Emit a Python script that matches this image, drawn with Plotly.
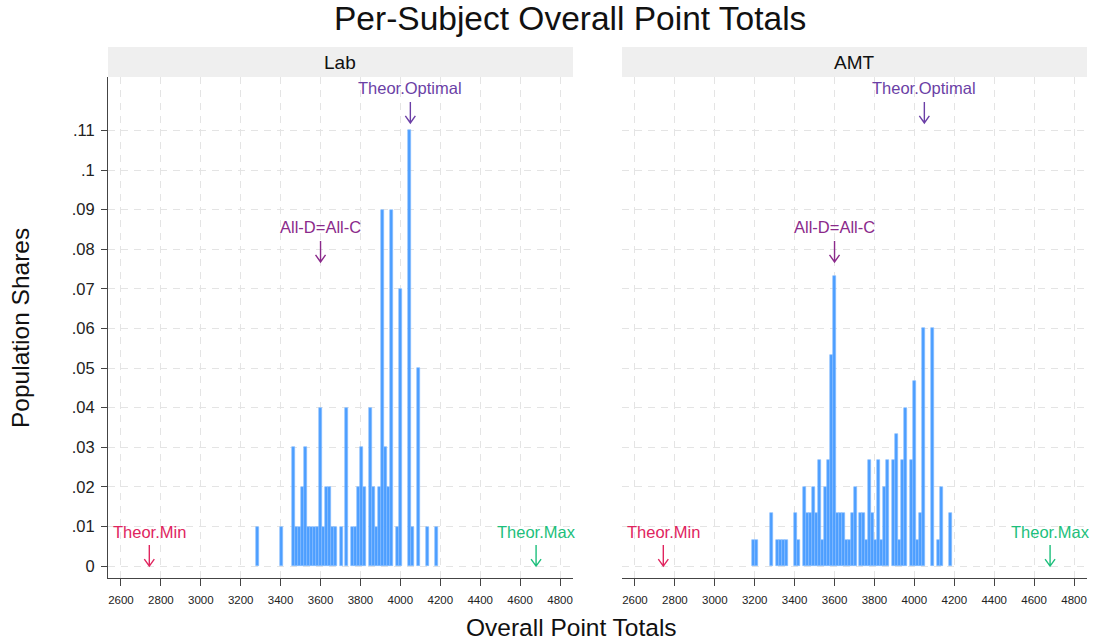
import plotly.graph_objects as go

# ---------------- data ----------------
bin_width = 15
lab_bin_lower = [3275, 3395, 3455, 3470, 3485, 3500, 3515, 3530, 3545, 3560, 3575, 3590,
                 3605, 3620, 3635, 3650, 3665, 3695, 3725, 3755, 3770, 3785, 3800, 3815,
                 3845, 3860, 3875, 3890, 3905, 3920, 3935, 3950, 3980, 3995, 4040, 4055,
                 4085, 4130, 4175]
lab_shares = [.01, .01, .03, .01, .01, .02, .03, .01, .01, .01, .01, .04,
              .01, .02, .02, .01, .01, .01, .04, .01, .01, .02, .03, .02,
              .04, .02, .01, .02, .09, .03, .02, .09, .01, .07, .11, .01,
              .05, .01, .01]

amt_bin_lower = [3185, 3200, 3275, 3305, 3320, 3335, 3350, 3395, 3410, 3440, 3455, 3470,
                 3485, 3500, 3515, 3530, 3545, 3560, 3575, 3590, 3605, 3620, 3635, 3650,
                 3665, 3680, 3695, 3725, 3740, 3755, 3770, 3785, 3800, 3815, 3830, 3845,
                 3860, 3890, 3905, 3920, 3935, 3950, 3980, 3995, 4010, 4025, 4040, 4085,
                 4115, 4130, 4175]
amt_shares = [.0067, .0067, .0133, .0067, .0067, .0067, .0067, .0133, .0067, .02, .0133, .0133,
              .02, .0133, .0267, .0067, .02, .0267, .0533, .0733, .0133, .0133, .0133, .0067,
              .0067, .0133, .02, .0133, .0133, .0067, .0267, .0133, .0067, .0267, .0067, .02,
              .0267, .0267, .0333, .0067, .0267, .04, .0267, .0467, .0067, .0133, .06, .06,
              .0067, .02, .0133]

panel_names = ["Lab", "AMT"]
x_tick_vals = [2600, 2800, 3000, 3200, 3400, 3600, 3800, 4000, 4200, 4400, 4600, 4800]
y_tick_vals = [0, .01, .02, .03, .04, .05, .06, .07, .08, .09, .1, .11]
y_tick_text = ["0", ".01", ".02", ".03", ".04", ".05", ".06", ".07", ".08", ".09", ".1", ".11"]

# reference markers: (label, x value, label y, arrow tip y, colour)
markers = [
    ("Theor.Min", 2742, .0086, .0000, "#e0245e"),
    ("Theor.Max", 4680, .0086, .0000, "#1dbf7c"),
    ("All-D=All-C", 3600, .0856, .0768, "#8b2a8b"),
    ("Theor.Optimal", 4050, .1207, .1119, "#6b3fa6"),
]

# ---------------- figure ----------------
W, H = 1093, 643
FONT = "Liberation Sans, Arial, sans-serif"
BAR = "#4c9eff"

def px_x(p):
    return p / W

def px_y(p):
    return 1 - p / H

dom_lab = [px_x(108), px_x(573)]
dom_amt = [px_x(622), px_x(1087)]
dom_y = [px_y(578), px_y(77)]

fig = go.Figure()
fig.add_trace(go.Bar(x=lab_bin_lower, y=lab_shares, width=bin_width, offset=0,
                     marker=dict(color=BAR, line=dict(color="#86bdff", width=0.6)),
                     xaxis="x", yaxis="y", showlegend=False, hoverinfo="x+y"))
fig.add_trace(go.Bar(x=amt_bin_lower, y=amt_shares, width=bin_width, offset=0,
                     marker=dict(color=BAR, line=dict(color="#86bdff", width=0.6)),
                     xaxis="x2", yaxis="y2", showlegend=False, hoverinfo="x+y"))

xrange = [2535, 4865]
yrange = [-0.003, 0.1235]
grid = dict(showgrid=True, gridcolor="#e4e4e4", gridwidth=1, griddash="7px,6px")

xcommon = dict(range=xrange, tickmode="array", tickvals=x_tick_vals,
               ticks="outside", ticklen=7, tickcolor="#444", tickwidth=1,
               showline=True, linecolor="#444", linewidth=1,
               tickfont=dict(family=FONT, size=11.5, color="#222"),
               ticklabelstandoff=4, zeroline=False, **grid)

fig.update_layout(
    width=W, height=H,
    margin=dict(l=0, r=0, t=0, b=0),
    paper_bgcolor="white", plot_bgcolor="white",
    bargap=0,
    xaxis=dict(domain=dom_lab, anchor="y", **xcommon),
    xaxis2=dict(domain=dom_amt, anchor="y2", **xcommon),
    yaxis=dict(domain=dom_y, anchor="x", range=yrange, tickmode="array",
               tickvals=y_tick_vals, ticktext=y_tick_text,
               ticks="outside", ticklen=6, tickcolor="#444",
               showline=True, linecolor="#444", linewidth=1,
               tickfont=dict(family=FONT, size=16.5, color="#222"),
               ticklabelstandoff=3, zeroline=False, **grid),
    yaxis2=dict(domain=dom_y, anchor="x2", range=yrange, tickmode="array",
                tickvals=y_tick_vals, showticklabels=False, ticks="",
                showline=False, zeroline=False, **grid),
    font=dict(family=FONT, color="#111"),
)

shapes = []
annotations = []
# strips
for name, dom in zip(panel_names, [dom_lab, dom_amt]):
    shapes.append(dict(type="rect", xref="paper", yref="paper",
                       x0=dom[0], x1=dom[1], y0=px_y(77), y1=px_y(47),
                       fillcolor="#efefef", line=dict(width=0), layer="below"))
    annotations.append(dict(xref="paper", yref="paper", x=(dom[0] + dom[1]) / 2,
                            y=(px_y(77) + px_y(47)) / 2, text=name, showarrow=False,
                            xanchor="center", yanchor="middle",
                            font=dict(family=FONT, size=19, color="#111")))

# reference markers: label text + thin down-arrow (pixel-sized path anchored at the tip)
ARROW_PATH = "M0,21 L0,0 M-5,7 L0,0 L5,7"
for xr, yr in [("x", "y"), ("x2", "y2")]:
    for label, xv, ylab, ytip, col in markers:
        annotations.append(dict(xref=xr, yref=yr, x=xv, y=ylab, text=label, showarrow=False,
                                xanchor="center", yanchor="middle",
                                font=dict(family=FONT, size=16.5, color=col)))
        shapes.append(dict(type="path", xref=xr, yref=yr,
                           xsizemode="pixel", ysizemode="pixel",
                           xanchor=xv, yanchor=ytip, path=ARROW_PATH,
                           line=dict(color=col, width=1.4)))

# titles
annotations.append(dict(xref="paper", yref="paper", x=px_x(570), y=px_y(18),
                        text="Per-Subject Overall Point Totals", showarrow=False,
                        xanchor="center", yanchor="middle",
                        font=dict(family=FONT, size=33.5, color="#111")))
annotations.append(dict(xref="paper", yref="paper", x=px_x(571), y=px_y(627),
                        text="Overall Point Totals", showarrow=False,
                        xanchor="center", yanchor="middle",
                        font=dict(family=FONT, size=24.5, color="#111")))
annotations.append(dict(xref="paper", yref="paper", x=px_x(20), y=px_y(328),
                        text="Population Shares", showarrow=False, textangle=-90,
                        xanchor="center", yanchor="middle",
                        font=dict(family=FONT, size=24.5, color="#111")))

fig.update_layout(shapes=shapes, annotations=annotations)
fig.write_html("out.html", config={"displayModeBar": False},
               post_script="document.body.style.margin='0';document.body.style.overflow='hidden';")
